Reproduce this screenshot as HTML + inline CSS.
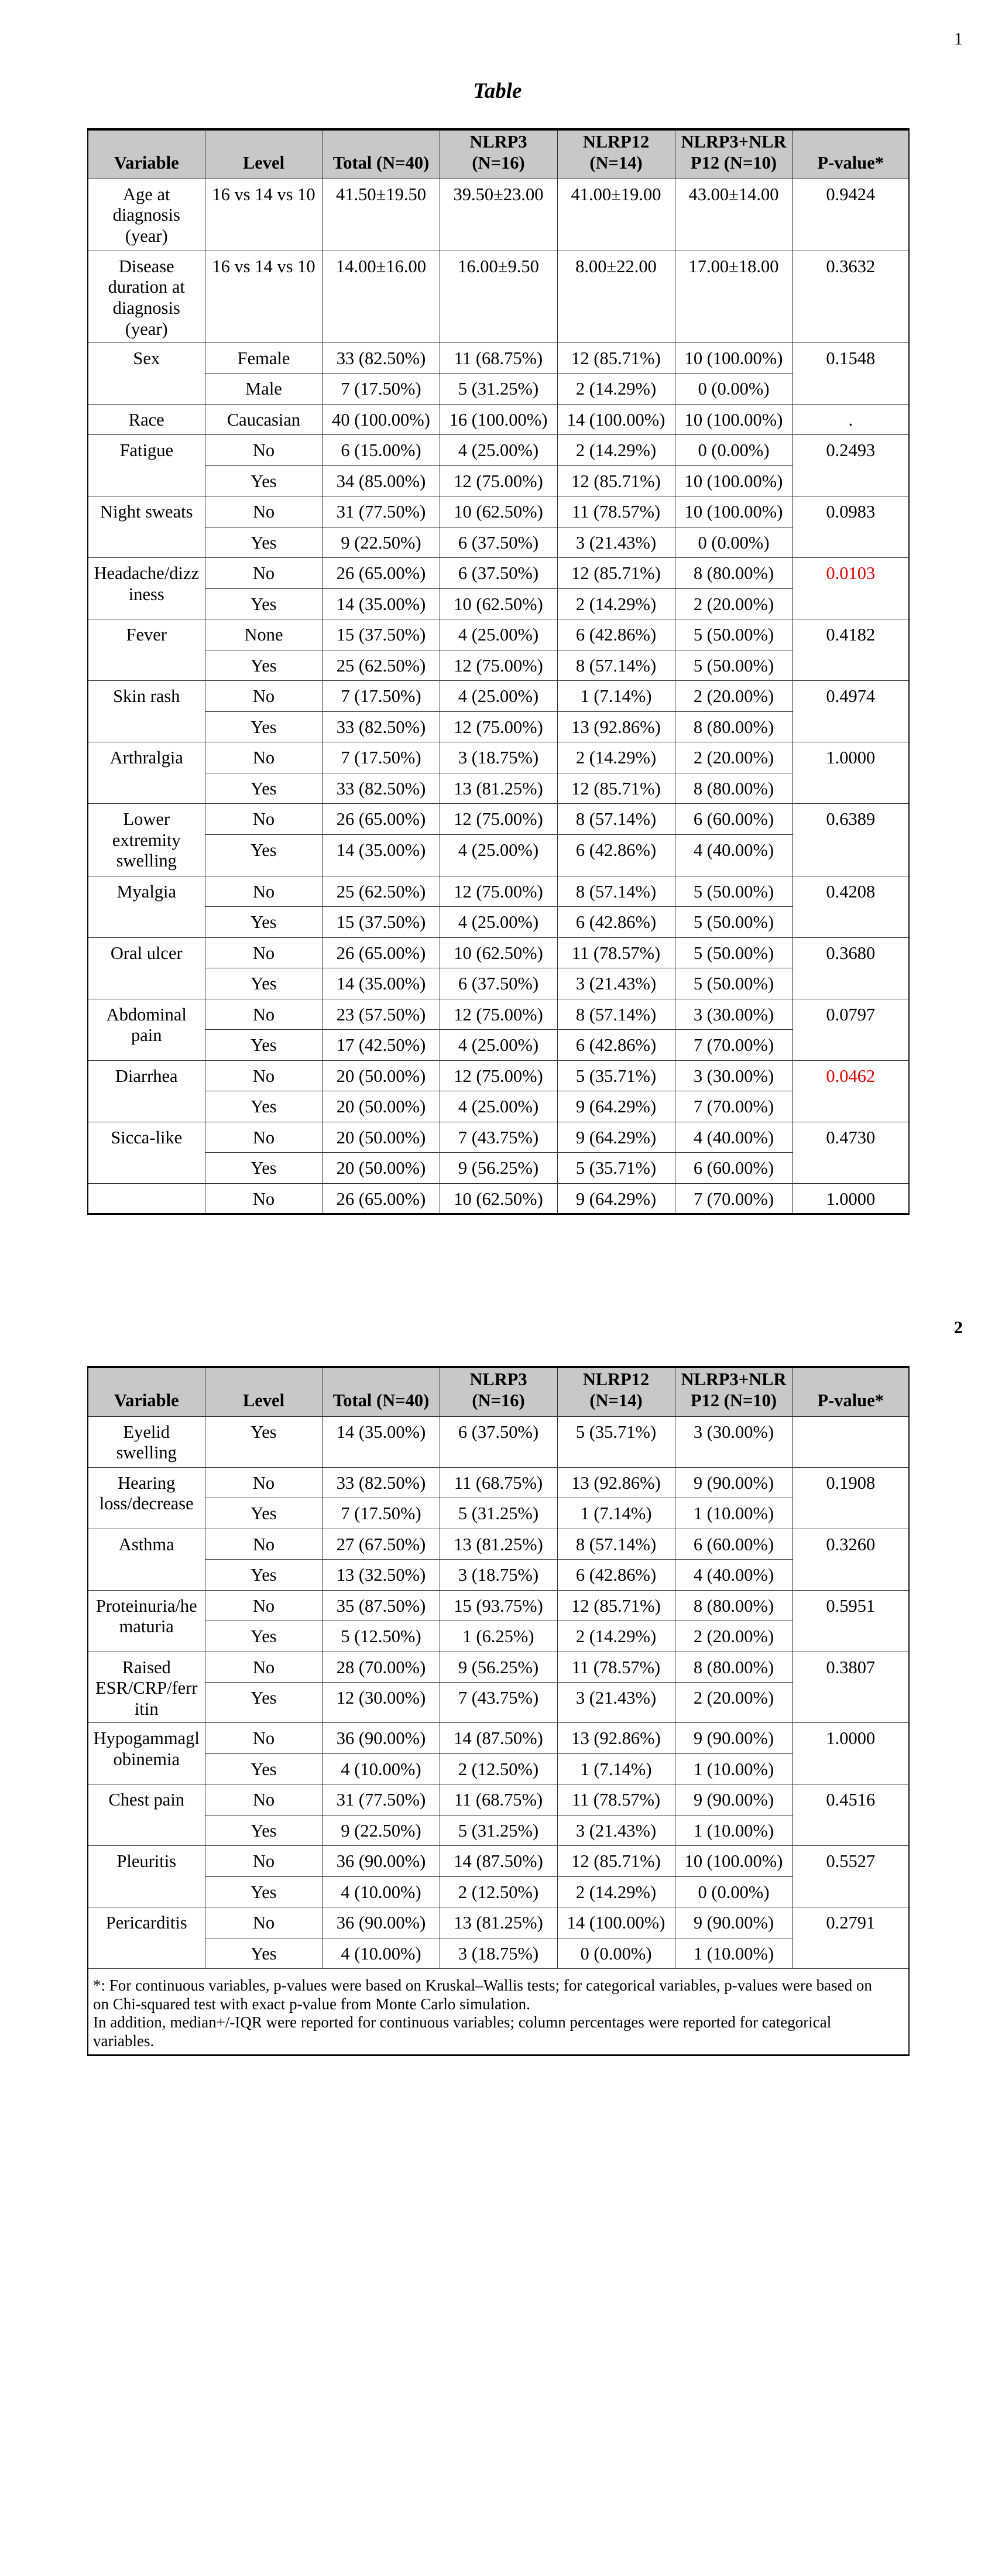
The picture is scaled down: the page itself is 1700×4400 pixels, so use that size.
<!DOCTYPE html>
<html><head><meta charset="utf-8">
<style>
html,body{margin:0;padding:0;background:#fff;}
body{width:1700px;height:4400px;position:relative;font-family:"Liberation Serif","Times New Roman",serif;color:#000;}
.pn{position:absolute;left:1630px;font-size:30px;line-height:36px;}
.title{position:absolute;left:0;width:1700px;top:134px;text-align:center;font-size:37px;font-weight:bold;font-style:italic;line-height:44px;}
table{position:absolute;left:149px;width:1403px;border-collapse:collapse;table-layout:fixed;border-top:4px solid #000;border-bottom:3px solid #000;border-left:2px solid #111;border-right:2px solid #111;}
td,th{border:1px solid #333;padding:0;text-align:center;vertical-align:top;font-size:30.5px;line-height:35.7px;white-space:nowrap;overflow:hidden;}
td>div{padding-top:9px;}
th{background:#c8c8c8;vertical-align:bottom;font-weight:bold;}
th>div{padding-bottom:8px;}
.r{color:#e00000;}
tr.s{height:52.5px;}
td.fn{text-align:left;font-size:27px;line-height:31.5px;padding:13px 8px 0 8px;}
</style></head><body>
<div class="pn" style="top:49px;">1</div>
<div class="title">Table</div>

<table style="top:219px;">
<colgroup><col style="width:200px"><col style="width:201px"><col style="width:200px"><col style="width:201px"><col style="width:201px"><col style="width:201px"><col style="width:199px"></colgroup>
<tr style="height:84px"><th><div>Variable</div></th><th><div>Level</div></th><th><div>Total (N=40)</div></th><th><div>NLRP3<br>(N=16)</div></th><th><div>NLRP12<br>(N=14)</div></th><th><div>NLRP3+NLR<br>P12 (N=10)</div></th><th><div>P-value*</div></th></tr>
<tr style="height:123px"><td><div>Age at<br>diagnosis<br>(year)</div></td><td><div>16 vs 14 vs 10</div></td><td><div>41.50±19.50</div></td><td><div>39.50±23.00</div></td><td><div>41.00±19.00</div></td><td><div>43.00±14.00</div></td><td><div>0.9424</div></td></tr>
<tr style="height:157px"><td><div>Disease<br>duration at<br>diagnosis<br>(year)</div></td><td><div>16 vs 14 vs 10</div></td><td><div>14.00±16.00</div></td><td><div>16.00±9.50</div></td><td><div>8.00±22.00</div></td><td><div>17.00±18.00</div></td><td><div>0.3632</div></td></tr>
<tr class="s"><td rowspan="2"><div>Sex</div></td><td><div>Female</div></td><td><div>33 (82.50%)</div></td><td><div>11 (68.75%)</div></td><td><div>12 (85.71%)</div></td><td><div>10 (100.00%)</div></td><td rowspan="2"><div>0.1548</div></td></tr>
<tr class="s"><td><div>Male</div></td><td><div>7 (17.50%)</div></td><td><div>5 (31.25%)</div></td><td><div>2 (14.29%)</div></td><td><div>0 (0.00%)</div></td></tr>
<tr class="s"><td><div>Race</div></td><td><div>Caucasian</div></td><td><div>40 (100.00%)</div></td><td><div>16 (100.00%)</div></td><td><div>14 (100.00%)</div></td><td><div>10 (100.00%)</div></td><td><div>.</div></td></tr>
<tr class="s"><td rowspan="2"><div>Fatigue</div></td><td><div>No</div></td><td><div>6 (15.00%)</div></td><td><div>4 (25.00%)</div></td><td><div>2 (14.29%)</div></td><td><div>0 (0.00%)</div></td><td rowspan="2"><div>0.2493</div></td></tr>
<tr class="s"><td><div>Yes</div></td><td><div>34 (85.00%)</div></td><td><div>12 (75.00%)</div></td><td><div>12 (85.71%)</div></td><td><div>10 (100.00%)</div></td></tr>
<tr class="s"><td rowspan="2"><div>Night sweats</div></td><td><div>No</div></td><td><div>31 (77.50%)</div></td><td><div>10 (62.50%)</div></td><td><div>11 (78.57%)</div></td><td><div>10 (100.00%)</div></td><td rowspan="2"><div>0.0983</div></td></tr>
<tr class="s"><td><div>Yes</div></td><td><div>9 (22.50%)</div></td><td><div>6 (37.50%)</div></td><td><div>3 (21.43%)</div></td><td><div>0 (0.00%)</div></td></tr>
<tr class="s"><td rowspan="2"><div>Headache/dizz<br>iness</div></td><td><div>No</div></td><td><div>26 (65.00%)</div></td><td><div>6 (37.50%)</div></td><td><div>12 (85.71%)</div></td><td><div>8 (80.00%)</div></td><td rowspan="2"><div class="r">0.0103</div></td></tr>
<tr class="s"><td><div>Yes</div></td><td><div>14 (35.00%)</div></td><td><div>10 (62.50%)</div></td><td><div>2 (14.29%)</div></td><td><div>2 (20.00%)</div></td></tr>
<tr class="s"><td rowspan="2"><div>Fever</div></td><td><div>None</div></td><td><div>15 (37.50%)</div></td><td><div>4 (25.00%)</div></td><td><div>6 (42.86%)</div></td><td><div>5 (50.00%)</div></td><td rowspan="2"><div>0.4182</div></td></tr>
<tr class="s"><td><div>Yes</div></td><td><div>25 (62.50%)</div></td><td><div>12 (75.00%)</div></td><td><div>8 (57.14%)</div></td><td><div>5 (50.00%)</div></td></tr>
<tr class="s"><td rowspan="2"><div>Skin rash</div></td><td><div>No</div></td><td><div>7 (17.50%)</div></td><td><div>4 (25.00%)</div></td><td><div>1 (7.14%)</div></td><td><div>2 (20.00%)</div></td><td rowspan="2"><div>0.4974</div></td></tr>
<tr class="s"><td><div>Yes</div></td><td><div>33 (82.50%)</div></td><td><div>12 (75.00%)</div></td><td><div>13 (92.86%)</div></td><td><div>8 (80.00%)</div></td></tr>
<tr class="s"><td rowspan="2"><div>Arthralgia</div></td><td><div>No</div></td><td><div>7 (17.50%)</div></td><td><div>3 (18.75%)</div></td><td><div>2 (14.29%)</div></td><td><div>2 (20.00%)</div></td><td rowspan="2"><div>1.0000</div></td></tr>
<tr class="s"><td><div>Yes</div></td><td><div>33 (82.50%)</div></td><td><div>13 (81.25%)</div></td><td><div>12 (85.71%)</div></td><td><div>8 (80.00%)</div></td></tr>
<tr class="s"><td rowspan="2"><div>Lower<br>extremity<br>swelling</div></td><td><div>No</div></td><td><div>26 (65.00%)</div></td><td><div>12 (75.00%)</div></td><td><div>8 (57.14%)</div></td><td><div>6 (60.00%)</div></td><td rowspan="2"><div>0.6389</div></td></tr>
<tr style="height:71px"><td><div>Yes</div></td><td><div>14 (35.00%)</div></td><td><div>4 (25.00%)</div></td><td><div>6 (42.86%)</div></td><td><div>4 (40.00%)</div></td></tr>
<tr class="s"><td rowspan="2"><div>Myalgia</div></td><td><div>No</div></td><td><div>25 (62.50%)</div></td><td><div>12 (75.00%)</div></td><td><div>8 (57.14%)</div></td><td><div>5 (50.00%)</div></td><td rowspan="2"><div>0.4208</div></td></tr>
<tr class="s"><td><div>Yes</div></td><td><div>15 (37.50%)</div></td><td><div>4 (25.00%)</div></td><td><div>6 (42.86%)</div></td><td><div>5 (50.00%)</div></td></tr>
<tr class="s"><td rowspan="2"><div>Oral ulcer</div></td><td><div>No</div></td><td><div>26 (65.00%)</div></td><td><div>10 (62.50%)</div></td><td><div>11 (78.57%)</div></td><td><div>5 (50.00%)</div></td><td rowspan="2"><div>0.3680</div></td></tr>
<tr class="s"><td><div>Yes</div></td><td><div>14 (35.00%)</div></td><td><div>6 (37.50%)</div></td><td><div>3 (21.43%)</div></td><td><div>5 (50.00%)</div></td></tr>
<tr class="s"><td rowspan="2"><div>Abdominal<br>pain</div></td><td><div>No</div></td><td><div>23 (57.50%)</div></td><td><div>12 (75.00%)</div></td><td><div>8 (57.14%)</div></td><td><div>3 (30.00%)</div></td><td rowspan="2"><div>0.0797</div></td></tr>
<tr class="s"><td><div>Yes</div></td><td><div>17 (42.50%)</div></td><td><div>4 (25.00%)</div></td><td><div>6 (42.86%)</div></td><td><div>7 (70.00%)</div></td></tr>
<tr class="s"><td rowspan="2"><div>Diarrhea</div></td><td><div>No</div></td><td><div>20 (50.00%)</div></td><td><div>12 (75.00%)</div></td><td><div>5 (35.71%)</div></td><td><div>3 (30.00%)</div></td><td rowspan="2"><div class="r">0.0462</div></td></tr>
<tr class="s"><td><div>Yes</div></td><td><div>20 (50.00%)</div></td><td><div>4 (25.00%)</div></td><td><div>9 (64.29%)</div></td><td><div>7 (70.00%)</div></td></tr>
<tr class="s"><td rowspan="2"><div>Sicca-like</div></td><td><div>No</div></td><td><div>20 (50.00%)</div></td><td><div>7 (43.75%)</div></td><td><div>9 (64.29%)</div></td><td><div>4 (40.00%)</div></td><td rowspan="2"><div>0.4730</div></td></tr>
<tr class="s"><td><div>Yes</div></td><td><div>20 (50.00%)</div></td><td><div>9 (56.25%)</div></td><td><div>5 (35.71%)</div></td><td><div>6 (60.00%)</div></td></tr>
<tr class="s"><td><div></div></td><td><div>No</div></td><td><div>26 (65.00%)</div></td><td><div>10 (62.50%)</div></td><td><div>9 (64.29%)</div></td><td><div>7 (70.00%)</div></td><td><div>1.0000</div></td></tr>
</table>

<div class="pn" style="top:2250px;font-weight:bold;">2</div>

<table style="top:2333px;">
<colgroup><col style="width:200px"><col style="width:201px"><col style="width:200px"><col style="width:201px"><col style="width:201px"><col style="width:201px"><col style="width:199px"></colgroup>
<tr style="height:84px"><th><div>Variable</div></th><th><div>Level</div></th><th><div>Total (N=40)</div></th><th><div>NLRP3<br>(N=16)</div></th><th><div>NLRP12<br>(N=14)</div></th><th><div>NLRP3+NLR<br>P12 (N=10)</div></th><th><div>P-value*</div></th></tr>
<tr style="height:87px"><td><div>Eyelid<br>swelling</div></td><td><div>Yes</div></td><td><div>14 (35.00%)</div></td><td><div>6 (37.50%)</div></td><td><div>5 (35.71%)</div></td><td><div>3 (30.00%)</div></td><td><div></div></td></tr>
<tr class="s"><td rowspan="2"><div>Hearing<br>loss/decrease</div></td><td><div>No</div></td><td><div>33 (82.50%)</div></td><td><div>11 (68.75%)</div></td><td><div>13 (92.86%)</div></td><td><div>9 (90.00%)</div></td><td rowspan="2"><div>0.1908</div></td></tr>
<tr class="s"><td><div>Yes</div></td><td><div>7 (17.50%)</div></td><td><div>5 (31.25%)</div></td><td><div>1 (7.14%)</div></td><td><div>1 (10.00%)</div></td></tr>
<tr class="s"><td rowspan="2"><div>Asthma</div></td><td><div>No</div></td><td><div>27 (67.50%)</div></td><td><div>13 (81.25%)</div></td><td><div>8 (57.14%)</div></td><td><div>6 (60.00%)</div></td><td rowspan="2"><div>0.3260</div></td></tr>
<tr class="s"><td><div>Yes</div></td><td><div>13 (32.50%)</div></td><td><div>3 (18.75%)</div></td><td><div>6 (42.86%)</div></td><td><div>4 (40.00%)</div></td></tr>
<tr class="s"><td rowspan="2"><div>Proteinuria/he<br>maturia</div></td><td><div>No</div></td><td><div>35 (87.50%)</div></td><td><div>15 (93.75%)</div></td><td><div>12 (85.71%)</div></td><td><div>8 (80.00%)</div></td><td rowspan="2"><div>0.5951</div></td></tr>
<tr class="s"><td><div>Yes</div></td><td><div>5 (12.50%)</div></td><td><div>1 (6.25%)</div></td><td><div>2 (14.29%)</div></td><td><div>2 (20.00%)</div></td></tr>
<tr class="s"><td rowspan="2"><div>Raised<br>ESR/CRP/ferr<br>itin</div></td><td><div>No</div></td><td><div>28 (70.00%)</div></td><td><div>9 (56.25%)</div></td><td><div>11 (78.57%)</div></td><td><div>8 (80.00%)</div></td><td rowspan="2"><div>0.3807</div></td></tr>
<tr style="height:69px"><td><div>Yes</div></td><td><div>12 (30.00%)</div></td><td><div>7 (43.75%)</div></td><td><div>3 (21.43%)</div></td><td><div>2 (20.00%)</div></td></tr>
<tr class="s"><td rowspan="2"><div>Hypogammagl<br>obinemia</div></td><td><div>No</div></td><td><div>36 (90.00%)</div></td><td><div>14 (87.50%)</div></td><td><div>13 (92.86%)</div></td><td><div>9 (90.00%)</div></td><td rowspan="2"><div>1.0000</div></td></tr>
<tr class="s"><td><div>Yes</div></td><td><div>4 (10.00%)</div></td><td><div>2 (12.50%)</div></td><td><div>1 (7.14%)</div></td><td><div>1 (10.00%)</div></td></tr>
<tr class="s"><td rowspan="2"><div>Chest pain</div></td><td><div>No</div></td><td><div>31 (77.50%)</div></td><td><div>11 (68.75%)</div></td><td><div>11 (78.57%)</div></td><td><div>9 (90.00%)</div></td><td rowspan="2"><div>0.4516</div></td></tr>
<tr class="s"><td><div>Yes</div></td><td><div>9 (22.50%)</div></td><td><div>5 (31.25%)</div></td><td><div>3 (21.43%)</div></td><td><div>1 (10.00%)</div></td></tr>
<tr class="s"><td rowspan="2"><div>Pleuritis</div></td><td><div>No</div></td><td><div>36 (90.00%)</div></td><td><div>14 (87.50%)</div></td><td><div>12 (85.71%)</div></td><td><div>10 (100.00%)</div></td><td rowspan="2"><div>0.5527</div></td></tr>
<tr class="s"><td><div>Yes</div></td><td><div>4 (10.00%)</div></td><td><div>2 (12.50%)</div></td><td><div>2 (14.29%)</div></td><td><div>0 (0.00%)</div></td></tr>
<tr class="s"><td rowspan="2"><div>Pericarditis</div></td><td><div>No</div></td><td><div>36 (90.00%)</div></td><td><div>13 (81.25%)</div></td><td><div>14 (100.00%)</div></td><td><div>9 (90.00%)</div></td><td rowspan="2"><div>0.2791</div></td></tr>
<tr class="s"><td><div>Yes</div></td><td><div>4 (10.00%)</div></td><td><div>3 (18.75%)</div></td><td><div>0 (0.00%)</div></td><td><div>1 (10.00%)</div></td></tr>
<tr style="height:148px"><td class="fn" colspan="7">*: For continuous variables, p-values were based on Kruskal–Wallis tests; for categorical variables, p-values were based on<br>on Chi-squared test with exact p-value from Monte Carlo simulation.<br>In addition, median+/-IQR were reported for continuous variables; column percentages were reported for categorical<br>variables.</td></tr>
</table>
</body></html>
